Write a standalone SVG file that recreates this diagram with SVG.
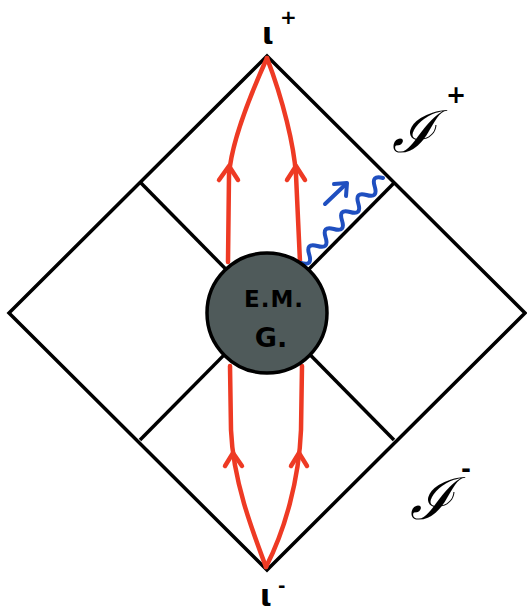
<svg xmlns="http://www.w3.org/2000/svg" width="527" height="615" viewBox="0 0 527 615">
<defs>
<style>
.frame{fill:none;stroke:#000;stroke-width:3.5;stroke-linejoin:miter}
.red{fill:none;stroke:#ee3a24;stroke-width:4.5;stroke-linecap:round;stroke-linejoin:round}
.blue{fill:none;stroke:#1f4fc0;stroke-width:4;stroke-linecap:round;stroke-linejoin:round}
.lbl{font-family:"DejaVu Sans","Liberation Sans",sans-serif;font-weight:bold;fill:#000}
.scri{font-family:"DejaVu Serif","Liberation Serif",serif;font-style:italic;fill:#000}
</style>
</defs>
<g id="diagram-frame">
<polygon class="frame" points="267,56 525,313 267,570 9,313"/>
<line class="frame" x1="141" y1="183" x2="394" y2="440"/>
<line class="frame" x1="394" y1="183" x2="140" y2="440"/>
</g>
<g id="connectors">
<path class="red" d="M267,58 C248,100 231,145 229,175 L228,262"/>
<path class="red" d="M267,58 C283,100 294,145 296,175 L300,262"/>
<path class="red" d="M219,180 L229,166 L238,180"/>
<path class="red" d="M287,180 L296,166 L305,180"/>
<path class="red" d="M230,366 L231,430 C233,480 252,530 266,567"/>
<path class="red" d="M302,366 L301,430 C299,480 285,530 266,567"/>
<path class="red" d="M225,466 L233,453 L242,466"/>
<path class="red" d="M291,466 L299,453 L307,466"/>
<path class="blue" d="M301,263 Q313,266.5 309.2,254.5 T317.4,246 T325.6,237.5 T333.8,229 T342,220.5 T350.1,212 T358.3,203.5 T366.5,195 T374.7,186.5 T383,178"/>
<path class="blue" d="M325,204 L346,184"/>
<path class="blue" d="M334,184 L347,183 L346,196"/>
</g>
<g id="emg">
<circle cx="267" cy="313" r="60" fill="#4f5a5a" stroke="#000" stroke-width="3.5"/>
<text class="lbl" x="274" y="307" font-size="23" text-anchor="middle" letter-spacing="1">E.M.</text>
<text class="lbl" x="271" y="347" font-size="27" text-anchor="middle">G.</text>
</g>
<g id="i-plus">
<text class="lbl" x="262" y="44" font-size="30">ι</text>
<text class="lbl" x="280" y="24" font-size="20">+</text>
</g>
<g id="i-minus">
<text class="lbl" x="260" y="606" font-size="30">ι</text>
<text class="lbl" x="278" y="592" font-size="18">-</text>
</g>
<g id="scri-plus">
<text class="scri" x="392" y="152" font-size="58">ℐ</text>
<text class="lbl" x="446" y="103" font-size="24">+</text>
</g>
<g id="scri-minus">
<text class="scri" x="410" y="519" font-size="58">ℐ</text>
<text class="lbl" x="461" y="477" font-size="24">-</text>
</g>
</svg>
